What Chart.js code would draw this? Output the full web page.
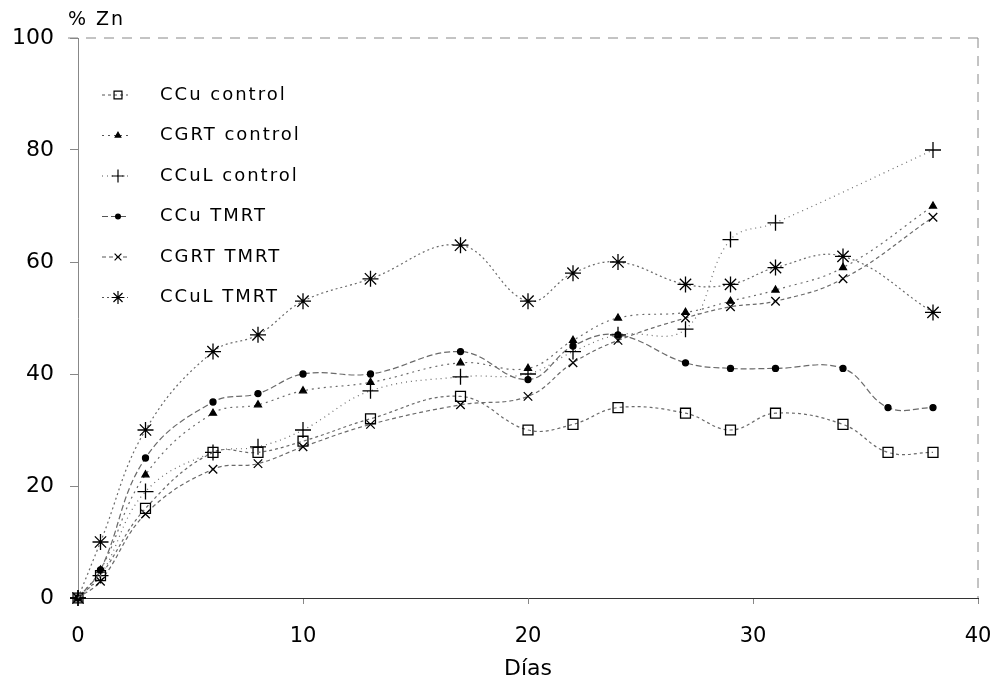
<!DOCTYPE html>
<html>
<head>
<meta charset="utf-8">
<script src="https://cdn.jsdelivr.net/npm/chart.js@4/dist/chart.umd.min.js"></script>
<style>
  html, body { margin: 0; padding: 0; background: #fff; }
  #wrap { width: 998px; height: 686px; }
</style>
</head>
<body>
<div id="wrap"><canvas id="zn"></canvas></div>
<script>
// days of sampling
const days = [0, 1, 3, 6, 8, 10, 13, 17, 20, 22, 24, 27, 29, 31, 34, 36, 38];

// % Zn per series (null = no point that day)
const ccuControl  = [0, 4, 16, 26, 26, 28, 32, 36, 30, 31, 34, 33, 30, 33, 31, 26, 26];
const cgrtControl = [0, 5, 22, 33, 34.5, 37, 38.5, 42, 41, 46, 50, 51, 53, 55, 59, null, 70];
const ccuLControl = [0, 4, 19, 26, 27, 30, 37, 39.5, 40, 44, 47, 48, 64, 67, null, null, 80];
const ccuTmrt     = [0, 5, 25, 35, 36.5, 40, 40, 44, 39, 45, 47, 42, 41, 41, 41, 34, 34];
const cgrtTmrt    = [0, 3, 15, 23, 24, 27, 31, 34.5, 36, 42, 46, 50, 52, 53, 57, null, 68];
const ccuLTmrt    = [0, 10, 30, 44, 47, 53, 57, 63, 53, 58, 60, 56, 56, 59, 61, null, 51];

const xTicks = [0, 10, 20, 30, 40];
const yTicks = [0, 20, 40, 60, 80, 100];

function pts(vals) {
    return days.map((d, i) => ({ x: d, y: vals[i] })).filter(p => p.y !== null);
}

const FONT = "'DejaVu Sans', sans-serif";

const series = [
    { label: 'CCu control',  data: ccuControl,  style: 'rect',     r: 7, fill: false, dash: [3, 3] },
    { label: 'CGRT control', data: cgrtControl, style: 'triangle', r: 4, fill: true,  dash: [2, 4] },
    { label: 'CCuL control', data: ccuLControl, style: 'cross',    r: 8, fill: false, dash: [1, 4] },
    { label: 'CCu TMRT',     data: ccuTmrt,     style: 'circle',   r: 3, fill: true,  dash: [6, 3] },
    { label: 'CGRT TMRT',    data: cgrtTmrt,    style: 'crossRot', r: 6, fill: false, dash: [4, 3] },
    { label: 'CCuL TMRT',    data: ccuLTmrt,    style: 'star',     r: 8, fill: false, dash: [2, 3] }
];

// legend drawn inside the plot, like the scan
const innerLegend = {
    id: 'innerLegend',
    afterDraw(chart) {
        const ctx = chart.ctx;
        ctx.save();
        series.forEach((s, i) => {
            const y = 95 + i * 40.5;
            ctx.strokeStyle = '#555';
            ctx.lineWidth = 1;
            ctx.setLineDash(s.dash);
            ctx.beginPath();
            ctx.moveTo(102, y);
            ctx.lineTo(128, y);
            ctx.stroke();
            ctx.setLineDash([]);
            ctx.fillStyle = s.fill ? '#000' : 'rgba(0,0,0,0)';
            ctx.strokeStyle = '#000';
            ctx.lineWidth = 1.2;
            Chart.helpers.drawPoint(ctx, { pointStyle: s.style, radius: s.r * 0.8, borderWidth: 1.2, rotation: 0 }, 118, y);
            ctx.fillStyle = '#000';
            ctx.font = '18px ' + FONT;
            ctx.letterSpacing = '2px';
            ctx.textBaseline = 'middle';
            ctx.fillText(s.label, 160, y);
        });
        // y unit
        ctx.font = '19px ' + FONT;
        ctx.letterSpacing = '2px';
        ctx.textBaseline = 'alphabetic';
        ctx.fillText('% Zn', 68, 25);
        ctx.restore();
    },
    beforeDatasetsDraw(chart) {
        const a = chart.chartArea, ctx = chart.ctx;
        ctx.save();
        ctx.strokeStyle = '#888';
        ctx.lineWidth = 1;
        ctx.setLineDash([10, 8]);
        ctx.beginPath();
        ctx.moveTo(a.left - 10, a.top);
        ctx.lineTo(a.right, a.top);
        ctx.moveTo(a.right, a.top);
        ctx.lineTo(a.right, a.bottom);
        ctx.stroke();
        ctx.restore();
    }
};

new Chart(document.getElementById('zn'), {
    type: 'line',
    data: {
        datasets: series.map(s => ({
            label: s.label,
            data: pts(s.data),
            borderColor: '#6a6a6a',
            borderWidth: 1.2,
            borderDash: s.dash,
            tension: 0.4,
            pointStyle: s.style,
            pointRadius: s.r,
            pointBorderWidth: 1.3,
            pointBorderColor: '#000',
            pointBackgroundColor: s.fill ? '#000' : 'rgba(0,0,0,0)',
            clip: false
        }))
    },
    options: {
        responsive: true,
        maintainAspectRatio: false,
        animation: false,
        layout: { padding: { top: 38, right: 20, left: 0, bottom: 0 } },
        plugins: { legend: { display: false }, tooltip: { enabled: false } },
        scales: {
            x: {
                type: 'linear',
                min: 0, max: 40,
                afterFit(scale) { scale.height = 88; scale.paddingLeft = 0; scale.paddingRight = 0; },
                afterBuildTicks(scale) { scale.ticks = xTicks.map(v => ({ value: v })); },
                ticks: { color: '#000', font: { family: FONT, size: 21 }, padding: 20 },
                grid: { display: true, drawOnChartArea: false, tickLength: 6, color: '#888' },
                border: { color: '#333', dash: [16, 5], width: 1 },
                title: { display: true, text: 'Días', color: '#000', font: { family: FONT, size: 22 }, padding: { top: 0, bottom: 4 } }
            },
            y: {
                min: 0, max: 100,
                afterFit(scale) { scale.width = 78; },
                afterBuildTicks(scale) { scale.ticks = yTicks.map(v => ({ value: v })); },
                ticks: { color: '#000', font: { family: FONT, size: 22 }, padding: 16 },
                grid: { display: true, drawOnChartArea: false, tickLength: 8, color: '#888' },
                border: { color: '#888', dash: [2, 7], width: 1 }
            }
        }
    },
    plugins: [innerLegend]
});
</script>
</body>
</html>
